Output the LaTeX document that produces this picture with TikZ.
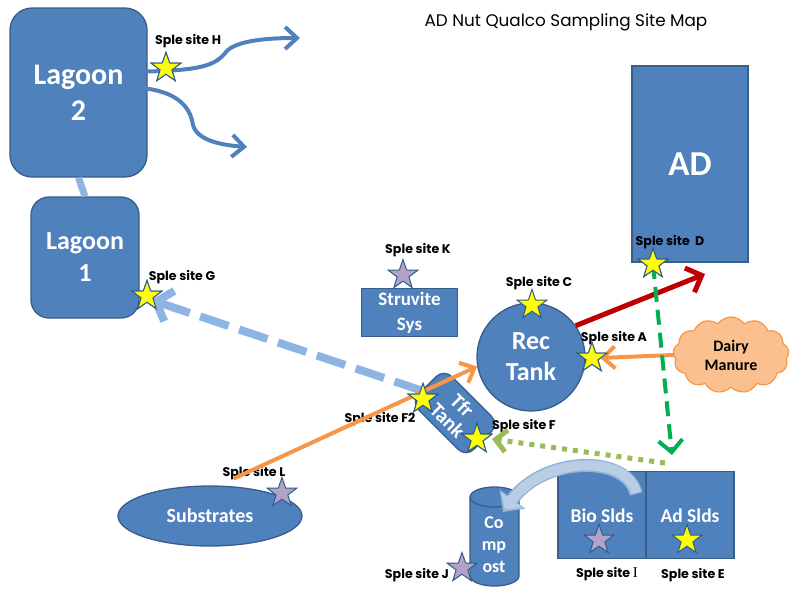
\documentclass[tikz,border=0pt]{standalone}
\usepackage{fontspec}
\setmainfont{Carlito}
\newfontfamily\labfont{Poppins}
\newfontfamily\seriffont{Liberation Serif}
\usetikzlibrary{shapes.geometric,shapes.symbols,arrows.meta}
\definecolor{boxfill}{HTML}{4F81BD}
\definecolor{boxline}{HTML}{385D8A}
\definecolor{lblue}{HTML}{8EB4E3}
\definecolor{pblue}{HTML}{B9CDE5}
\definecolor{pedge}{HTML}{95B3D7}
\definecolor{starY}{HTML}{FFFF00}
\definecolor{starP}{HTML}{B3A2C7}
\definecolor{starB}{HTML}{2E5C8A}
\definecolor{cred}{HTML}{C00000}
\definecolor{corange}{HTML}{F79646}
\definecolor{cloudfill}{HTML}{FAC090}
\definecolor{cgreen}{HTML}{00B050}
\definecolor{lgreen}{HTML}{9BBB59}
\tikzset{
  box/.style={fill=boxfill, draw=boxline, line width=1.3pt, text=white, align=center, inner sep=0pt},
  ystar/.style={star, star points=5, star point ratio=2.5, minimum size=31pt, inner sep=0pt, fill=starY, draw=starB, line width=1pt},
  pstar/.style={ystar, fill=starP},
  lab/.style={font=\labfont\bfseries\fontsize{12.6}{14}\selectfont, text=black, inner sep=0pt},
  barb/.style={-{Straight Barb[length=12pt,width=22pt]}, line cap=round},
}
\begin{document}
\begin{tikzpicture}[x=1pt,y=-1pt]
\useasboundingbox (0,0) rectangle (790,590);
% title
\node[font=\labfont\fontsize{16.8}{20}\selectfont] (title) at (566,22) {AD Nut Qualco Sampling Site Map};
% boxes
\node[box, rounded corners=22pt, minimum width=137pt, minimum height=169pt, font=\bfseries\fontsize{30}{36}\selectfont] (lag2) at (78.5,92.5) {Lagoon\\2};
\node[box, rounded corners=18pt, minimum width=108pt, minimum height=121pt, font=\bfseries\fontsize{26}{32}\selectfont] (lag1) at (85,257.5) {Lagoon\\1};
\node[box, minimum width=96pt, minimum height=48pt, font=\bfseries\fontsize{19}{25}\selectfont] (struv) at (409.5,312.5) {Struvite\\Sys};
\node[box, circle, minimum size=108pt, font=\bfseries\fontsize{26}{31}\selectfont] (rec) at (531,357) {Rec\\Tank};
\node[box, minimum width=116pt, minimum height=196pt, font=\bfseries\fontsize{35}{40}\selectfont] (ad) at (690,164) {AD};
\node[cloud, cloud puffs=13, cloud puff arc=110, aspect=1.6, minimum width=116pt, minimum height=76pt, fill=cloudfill, draw=corange, line width=1.2pt, align=center, inner sep=0pt, font=\bfseries\fontsize{16}{19}\selectfont] (dm) at (731,355) {Dairy\\Manure};
\node[box, rounded corners=11pt, rotate=-45, minimum width=78pt, minimum height=47pt, font=\bfseries\fontsize{20.5}{21}\selectfont] (tfr) at (455,413) {Tfr\\Tank};
\node[box, ellipse, minimum width=184pt, minimum height=60pt, font=\bfseries\fontsize{20}{24}\selectfont] (subs) at (210,516) {Substrates};
\node[box, minimum width=88pt, minimum height=87pt] (bio) at (602,515) {};
\node[box, minimum width=88pt, minimum height=87pt] (adsl) at (690,515) {};
\node[text=white, font=\bfseries\fontsize{19.5}{24}\selectfont] (biot) at (602,516) {Bio Slds};
\node[text=white, font=\bfseries\fontsize{19.5}{24}\selectfont] (adst) at (690,516) {Ad Slds};
% compost cylinder (arc angles are canvas angles: 90 = up)
\path[fill=boxfill, draw=boxline, line width=1.3pt] (470,497) -- (470,576) arc[start angle=180, end angle=360, x radius=24.5pt, y radius=10pt] -- (519,497) arc[start angle=0, end angle=180, x radius=24.5pt, y radius=10pt] -- cycle;
\draw[boxline, line width=1.3pt] (470,497) arc[start angle=180, end angle=360, x radius=24.5pt, y radius=10pt];
\node[text=white, align=center, font=\bfseries\fontsize{18}{22}\selectfont] (comp) at (494,545) {Co\\mp\\ost};
% labels
\node[lab] (lH) at (188,41) {Sple site H};
\node[lab] (lG) at (182,277) {Sple site G};
\node[lab] (lK) at (418,250) {Sple site K};
\node[lab] (lC) at (539,283) {Sple site C};
\node[lab] (lA) at (614,338) {Sple site A};
\node[lab] (lD) at (670,242) {Sple site\ \ D};
\node[lab] (lF2) at (380,419) {Sple site F2};
\node[lab] (lF) at (524,426) {Sple site F};
\node[lab] (lL) at (254,473) {Sple site L};
\node[lab] (lJ) at (417,575) {Sple site J};
\node[lab] (lI) at (607,574) {Sple site {\seriffont\mdseries\fontsize{15}{14}\selectfont I}};
\node[lab] (lE) at (693,575) {Sple site E};
% stars
\node[ystar] (sH) at (166,68) {};
\node[ystar] (sG) at (147,296) {};
\node[pstar] (sK) at (403,275) {};
\node[ystar] (sC) at (532,305) {};
\node[ystar] (sA) at (592,358) {};
\node[ystar] (sD) at (653,264) {};
\node[ystar] (sF2) at (423,399) {};
\node[ystar] (sF) at (477,439) {};
\node[pstar] (sL) at (282,493) {};
\node[pstar] (sJ) at (462,568) {};
\node[pstar] (sI) at (599,540) {};
\node[ystar] (sE) at (687,540) {};
% free ends
\coordinate (h1) at (300,38);
\coordinate (h2) at (247,147);
\coordinate (redend) at (705,274);
\coordinate (gend) at (672,455);
\coordinate (dotstart) at (665,463);
\coordinate (ostart) at (235,478);
% connectors
\draw[lblue, line width=7pt] (lag2.south) -- (lag1.north);
\draw[boxfill, line width=4pt, barb] ([yshift=21pt]lag2.east) .. controls (200,70) and (215,66) .. (226,52) .. controls (236,40) and (270,38) .. (h1);
\draw[boxfill, line width=4pt, barb] ([xshift=-12pt,yshift=5pt]lag2.east) .. controls (175,90) and (190,105) .. (193,125) .. controls (197,140) and (220,145) .. (h2);
\draw[lblue, line width=8pt, dash pattern=on 30pt off 11pt, -{Straight Barb[length=14pt,width=32pt]}] ([yshift=8pt]sF2.center) -- ([xshift=4pt,yshift=-4pt]sG.center);
\draw[cred, line width=5pt, -{Straight Barb[length=13pt,width=26pt]}] (rec.35) -- (redend);
\draw[corange, line width=4pt, barb] (dm.west) -- ([xshift=8pt]sA.center);
\draw[corange, line width=4pt, barb] (ostart) -- (rec.190);
\draw[cgreen, line width=4pt, dash pattern=on 15pt off 8pt, -{Straight Barb[length=12pt,width=24pt]}] (sD.center) -- (gend);
\draw[lgreen, line width=5pt, dash pattern=on 5pt off 6pt, -{Straight Barb[length=11pt,width=22pt]}] (dotstart) -- ([xshift=15pt]sF.center);
\draw[pedge, line width=13pt, -{Triangle[length=16pt,width=31pt]}] ([xshift=34pt,yshift=-23pt]bio.north) .. controls (628,455) and (545,455) .. ([xshift=9pt,yshift=33pt]comp.center);
\draw[pblue, line width=10pt, shorten >=3pt, -{Triangle[length=12pt,width=26pt]}] ([xshift=34pt,yshift=-22pt]bio.north) .. controls (628,455) and (545,455) .. ([xshift=9pt,yshift=33pt]comp.center);
% redraw stars on top of connectors
\foreach \s in {sH, sG, sF2, sF, sA, sD}{
  \node[ystar] at (\s) {};
}
\end{tikzpicture}
\end{document}
